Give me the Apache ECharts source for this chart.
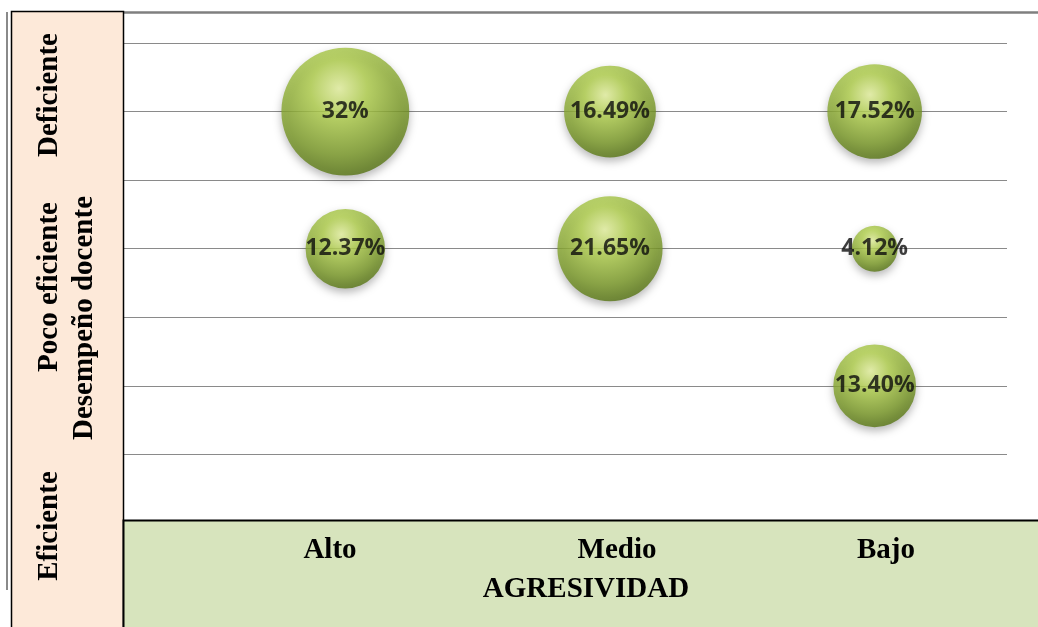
<!DOCTYPE html>
<html>
<head>
<meta charset="utf-8">
<script src="https://cdn.jsdelivr.net/npm/echarts@6/dist/echarts.min.js"></script>
<style>
  html, body { margin: 0; padding: 0; background: #fff; }
  #chart { width: 1038px; height: 627px; }
</style>
</head>
<body>
<div id="chart"></div>
<script>
// AGRESIVIDAD (x) vs Desempeño docente (y)
const categories = ["Alto", "Medio", "Bajo"];
const levels = ["Eficiente", "Poco eficiente", "Deficiente"];
const axisTitleX = "AGRESIVIDAD";
const axisTitleY = "Desempeño docente";

// percentages per level, order: Eficiente, Poco eficiente, Deficiente
const altoValues = [null, 12.37, 32];
const medioValues = [null, 21.65, 16.49];
const bajoValues = [13.40, 4.12, 17.52];
const altoLabels = ["", "12.37%", "32%"];
const medioLabels = ["", "21.65%", "16.49%"];
const bajoLabels = ["13.40%", "4.12%", "17.52%"];

const columns = [
  [altoValues, altoLabels],
  [medioValues, medioLabels],
  [bajoValues, bajoLabels]
];

const points = [];
columns.forEach(([vals, labs], ci) => {
  vals.forEach((v, li) => {
    if (v == null) return;
    points.push({ value: [ci + 1, li + 1, v], label: { formatter: labs[li] } });
  });
});

const chart = echarts.init(document.getElementById("chart"));

const serif = "'Liberation Serif', 'Times New Roman', serif";
const boldSerif = { fontFamily: serif, fontWeight: "bold", fontSize: 29, fill: "#000" };

const bubbleColor = {
  type: "radial", x: 0.45, y: 0.32, r: 0.74,
  colorStops: [
    { offset: 0, color: "#eaf7a4" },
    { offset: 0.3, color: "#b5d44f" },
    { offset: 0.7, color: "#7d9d29" },
    { offset: 0.9, color: "#5c7a16" },
    { offset: 1, color: "#465f0c" }
  ]
};

chart.setOption({
  animation: false,
  grid: { left: 123, right: 31, top: 43, bottom: 104 },
  xAxis: {
    type: "value", min: 0.16, max: 3.5,
    show: false
  },
  yAxis: {
    type: "value", min: 0, max: 3.5, interval: 0.5,
    axisLine: { show: false },
    axisTick: { show: false },
    axisLabel: { show: false },
    splitLine: { lineStyle: { color: "#8a8a8a", width: 1.2 } }
  },
  series: [{
    type: "scatter",
    data: points,
    symbolSize: (val) => 22.6 * Math.sqrt(val[2]),
    itemStyle: {
      color: bubbleColor,
      shadowBlur: 8,
      shadowColor: "rgba(0,0,0,0.35)",
      shadowOffsetY: 4
    },
    label: {
      show: true,
      position: "inside",
      color: "#0d0d0d",
      fontFamily: "'Open Sans', sans-serif",
      fontWeight: "bold",
      fontSize: 23
    }
  }],
  graphic: [
    { type: "line", z: 10, shape: { x1: 7, y1: 12, x2: 7, y2: 590 },
      style: { stroke: "#8a8a8a", lineWidth: 2 } },
    { type: "line", z: 10, shape: { x1: 11, y1: 12.5, x2: 1038, y2: 12.5 },
      style: { stroke: "#7f7f7f", lineWidth: 2.5 } },
    { type: "rect", z: 11, shape: { x: 11.5, y: 11.5, width: 112, height: 620 },
      style: { fill: "#fde9d9", stroke: "#000", lineWidth: 1.5 } },
    { type: "rect", z: 11, shape: { x: 123.5, y: 520.5, width: 920, height: 110 },
      style: { fill: "#d7e4bd", stroke: "#000", lineWidth: 2 } },
    { type: "text", z: 12, x: 50, y: 95, rotation: Math.PI / 2,
      style: Object.assign({ text: levels[2], align: "center", verticalAlign: "middle" }, boldSerif) },
    { type: "text", z: 12, x: 50, y: 287, rotation: Math.PI / 2,
      style: Object.assign({ text: levels[1], align: "center", verticalAlign: "middle" }, boldSerif) },
    { type: "text", z: 12, x: 85, y: 318, rotation: Math.PI / 2,
      style: Object.assign({ text: axisTitleY, align: "center", verticalAlign: "middle" }, boldSerif) },
    { type: "text", z: 12, x: 50, y: 526, rotation: Math.PI / 2,
      style: Object.assign({ text: levels[0], align: "center", verticalAlign: "middle" }, boldSerif) },
    { type: "text", z: 12, x: 330, y: 551,
      style: Object.assign({ text: categories[0], align: "center", verticalAlign: "middle" }, boldSerif) },
    { type: "text", z: 12, x: 617, y: 551,
      style: Object.assign({ text: categories[1], align: "center", verticalAlign: "middle" }, boldSerif) },
    { type: "text", z: 12, x: 886, y: 551,
      style: Object.assign({ text: categories[2], align: "center", verticalAlign: "middle" }, boldSerif) },
    { type: "text", z: 12, x: 586, y: 590,
      style: Object.assign({ text: axisTitleX, align: "center", verticalAlign: "middle" }, boldSerif) }
  ]
});
</script>
</body>
</html>
